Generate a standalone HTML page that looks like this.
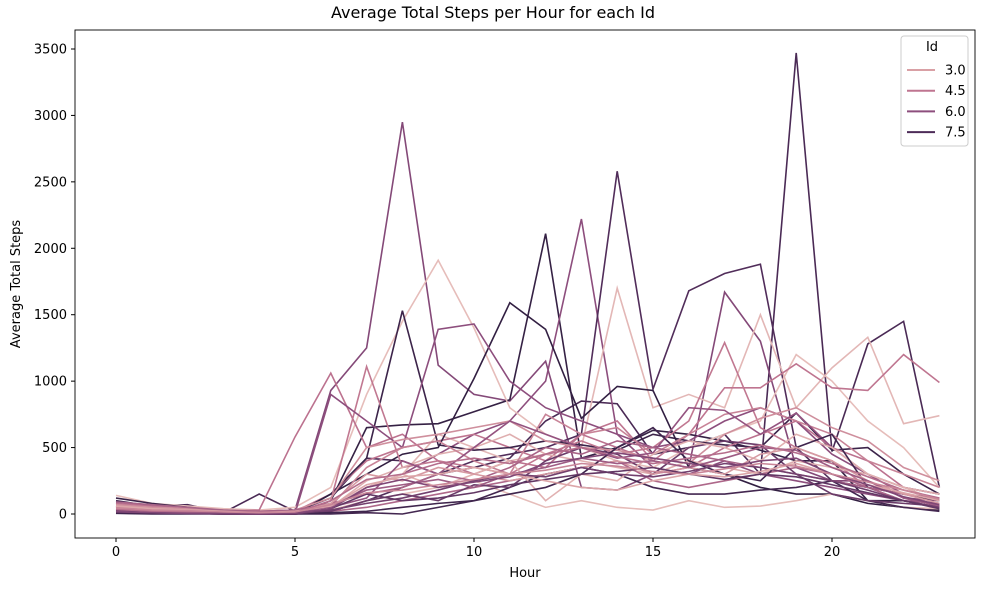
<!DOCTYPE html>
<html><head><meta charset="utf-8"><style>
body{margin:0;background:#fff;font-family:"DejaVu Sans","Liberation Sans",sans-serif}
</style></head><body>
<svg id="chart" width="989" height="590" xmlns="http://www.w3.org/2000/svg" font-family="DejaVu Sans, Liberation Sans, sans-serif">
<text x="493" y="18" text-anchor="middle" font-size="16">Average Total Steps per Hour for each Id</text>
<g id="lines"></g>
<rect x="75" y="30" width="900" height="508" fill="none" stroke="#000" stroke-width="0.9"/>
<g id="xt"></g>
<g id="yt"></g>
<text x="525" y="577" text-anchor="middle" font-size="13">Hour</text>
<text transform="translate(20,284) rotate(-90)" text-anchor="middle" font-size="13">Average Total Steps</text>
<g id="legend"></g>
</svg>
<script>
const hours=[0,1,2,3,4,5,6,7,8,9,10,11,12,13,14,15,16,17,18,19,20,21,22,23];
const xTicks=[0,5,10,15,20];
const yTicks=[0,500,1000,1500,2000,2500,3000,3500];
const legendHues=[3.0,4.5,6.0,7.5];
const hues=[7.6,6.2,8.2,6.0,7.4,2.0,2.2,4.5,8.0,8.3,4.6,4.4,6.0,2.5,2.0,5.0,7.8,4.0,6.8,3.6,5.8,2.4,7.9,5.2,3.2,5.5,6.6,7.0,2.8,4.8,6.3,3.9];
const s01=[100,60,70,10,150,20,120,420,400,300,350,420,700,850,830,450,500,600,300,3470,470,1280,1450,200];
const s02=[50,30,20,10,20,30,930,1250,2950,1120,900,850,1150,200,180,300,350,1670,1300,350,250,250,120,100];
const s03=[80,40,20,10,0,0,100,650,670,680,770,860,2110,420,500,630,600,550,480,400,400,100,100,50];
const s04=[30,20,10,5,5,10,50,200,300,450,600,700,1000,2220,600,350,300,400,300,250,200,150,100,80];
const s05=[10,5,5,0,0,0,20,100,200,300,400,450,500,600,2580,940,1680,1810,1880,500,250,200,100,50];
const s06=[140,80,60,40,30,50,200,900,1450,1910,1400,800,600,500,400,350,500,600,700,1200,1000,700,500,200];
const s07=[20,10,5,5,5,10,50,200,300,600,500,400,450,500,1700,800,900,800,1500,800,1100,1330,680,740];
const s08=[50,30,20,10,10,20,150,400,500,550,600,500,400,600,700,400,600,950,950,1130,950,930,1200,990];
const s09=[120,80,50,20,10,0,150,420,1530,520,480,500,550,520,480,600,550,520,500,760,480,500,300,150];
const s10=[60,30,20,10,5,0,150,300,450,500,1020,1590,1390,720,960,930,350,300,200,150,150,80,50,30];
const s11=[80,60,40,20,30,580,1060,500,600,400,300,400,350,600,500,400,350,500,600,700,500,400,200,150];
const s12=[40,20,10,5,5,10,100,1110,350,400,350,300,450,550,450,500,700,1290,650,500,400,200,150,100];
const s13=[30,20,10,5,5,5,900,700,500,1390,1430,1000,800,700,600,500,550,700,800,700,450,300,200,150];
const s14=[60,40,30,20,10,10,50,250,350,450,500,600,450,400,350,300,400,350,300,400,350,300,200,150];
const s15=[20,10,10,5,5,5,30,100,150,200,250,150,50,100,50,30,100,50,60,100,150,100,50,40];
const s16=[10,5,5,0,0,0,20,50,100,150,200,250,300,350,400,250,200,250,300,350,300,200,100,50];
const s17=[5,0,0,0,0,0,0,10,0,50,100,200,300,350,300,200,150,150,180,200,250,100,50,20];
const s18=[50,30,20,10,10,20,60,350,500,550,400,300,750,600,650,450,600,750,800,700,600,400,300,200];
const s19=[30,20,10,5,5,5,20,100,150,100,220,200,400,500,450,300,500,550,520,300,150,100,80,60];
const s20=[70,50,40,30,20,30,120,500,560,600,650,700,550,500,480,420,380,600,720,800,650,550,350,250];
const s21=[40,30,20,10,5,10,50,120,400,300,500,700,600,500,420,460,800,780,600,760,500,300,150,100];
const s22=[30,20,20,10,10,10,40,200,300,200,300,400,100,300,250,450,550,500,400,600,500,300,200,100];
const s23=[10,5,5,0,0,0,10,20,50,80,100,150,200,300,500,650,400,300,250,500,600,200,150,100];
const s24=[90,70,50,30,20,30,80,150,200,300,250,350,500,450,550,500,450,400,350,300,250,200,150,120];
const s25=[40,30,20,10,10,10,80,300,250,350,300,250,300,350,400,300,350,300,450,500,400,250,150,80];
const s26=[20,10,10,5,5,5,60,180,220,260,200,300,350,420,380,400,350,420,500,480,350,250,120,60];
const s27=[15,10,5,0,0,0,30,80,120,180,250,300,280,350,300,280,320,380,350,300,250,180,100,50];
const s28=[25,15,10,5,0,0,40,150,100,120,160,220,260,300,320,350,300,260,300,280,220,160,100,40];
const s29=[60,40,30,20,10,20,60,220,280,300,350,300,250,200,180,250,300,280,320,380,300,220,160,100];
const s30=[35,20,15,10,5,10,100,260,300,380,420,380,450,500,430,380,420,460,520,460,380,280,180,120];
const s31=[20,10,5,5,0,5,40,200,260,200,240,280,380,420,460,420,380,350,400,420,300,220,130,70];
const s32=[45,30,25,15,10,15,70,160,180,220,260,300,330,380,360,320,300,340,380,360,300,240,180,110];
const series=[s01,s02,s03,s04,s05,s06,s07,s08,s09,s10,s11,s12,s13,s14,s15,s16,s17,s18,s19,s20,s21,s22,s23,s24,s25,s26,s27,s28,s29,s30,s31,s32];

const NS="http://www.w3.org/2000/svg";
const xS=h=>116+h*35.8;
const yS=v=>514-v*0.13286;
const stops=[[1.5,[236,203,196]],[3,[217,160,165]],[4.5,[191,117,144]],[6,[141,78,125]],[7.5,[77,43,88]],[8.5,[43,28,60]]];
function col(h){
  if(h<=stops[0][0])return 'rgb('+stops[0][1]+')';
  for(let i=1;i<stops.length;i++){if(h<=stops[i][0]){const a=stops[i-1],b=stops[i],t=(h-a[0])/(b[0]-a[0]);return 'rgb('+a[1].map((c,k)=>Math.round(c+(b[1][k]-c)*t)).join(',')+')';}}
  return 'rgb('+stops[stops.length-1][1]+')';
}
const g=document.getElementById('lines');
series.forEach((s,i)=>{
  const p=document.createElementNS(NS,'polyline');
  p.setAttribute('points',s.map((v,k)=>xS(hours[k])+','+yS(v)).join(' '));
  p.setAttribute('fill','none');p.setAttribute('stroke',col(hues[i]));p.setAttribute('stroke-width','1.6');
  
  
  g.appendChild(p);
});
const xt=document.getElementById('xt');
xTicks.forEach(t=>{
  const x=xS(t);
  const l=document.createElementNS(NS,'line');l.setAttribute('x1',x);l.setAttribute('x2',x);l.setAttribute('y1',538);l.setAttribute('y2',542);l.setAttribute('stroke','#000');
  
  
  xt.appendChild(l);
  const tx=document.createElementNS(NS,'text');tx.setAttribute('x',x);tx.setAttribute('y',556);tx.setAttribute('text-anchor','middle');tx.setAttribute('font-size','13');tx.textContent=t;
  
  
  xt.appendChild(tx);
});
const yt=document.getElementById('yt');
yTicks.forEach(t=>{
  const y=yS(t);
  const l=document.createElementNS(NS,'line');l.setAttribute('x1',71);l.setAttribute('x2',75);l.setAttribute('y1',y);l.setAttribute('y2',y);l.setAttribute('stroke','#000');
  
  
  yt.appendChild(l);
  const tx=document.createElementNS(NS,'text');tx.setAttribute('x',67);tx.setAttribute('y',y+4.5);tx.setAttribute('text-anchor','end');tx.setAttribute('font-size','13');tx.textContent=t;
  
  
  yt.appendChild(tx);
});
const lg=document.getElementById('legend');
const box=document.createElementNS(NS,'rect');box.setAttribute('x',901);box.setAttribute('y',36);box.setAttribute('width',67);box.setAttribute('height',110);box.setAttribute('rx',3);box.setAttribute('fill','#fff');box.setAttribute('fill-opacity','0.8');box.setAttribute('stroke','#ccc');


lg.appendChild(box);
const tt=document.createElementNS(NS,'text');tt.setAttribute('x',932);tt.setAttribute('y',51);tt.setAttribute('text-anchor','middle');tt.setAttribute('font-size','13');tt.textContent='Id';


lg.appendChild(tt);
legendHues.forEach((h,i)=>{
  const y=70+i*20.7;
  const l=document.createElementNS(NS,'line');l.setAttribute('x1',907);l.setAttribute('x2',935);l.setAttribute('y1',y);l.setAttribute('y2',y);l.setAttribute('stroke',col(h));l.setAttribute('stroke-width','2');
  
  
  lg.appendChild(l);
  const tx=document.createElementNS(NS,'text');tx.setAttribute('x',945);tx.setAttribute('y',y+4.5);tx.setAttribute('font-size','13');tx.textContent=h.toFixed(1);
  
  
  lg.appendChild(tx);
});
</script>
</body></html>
